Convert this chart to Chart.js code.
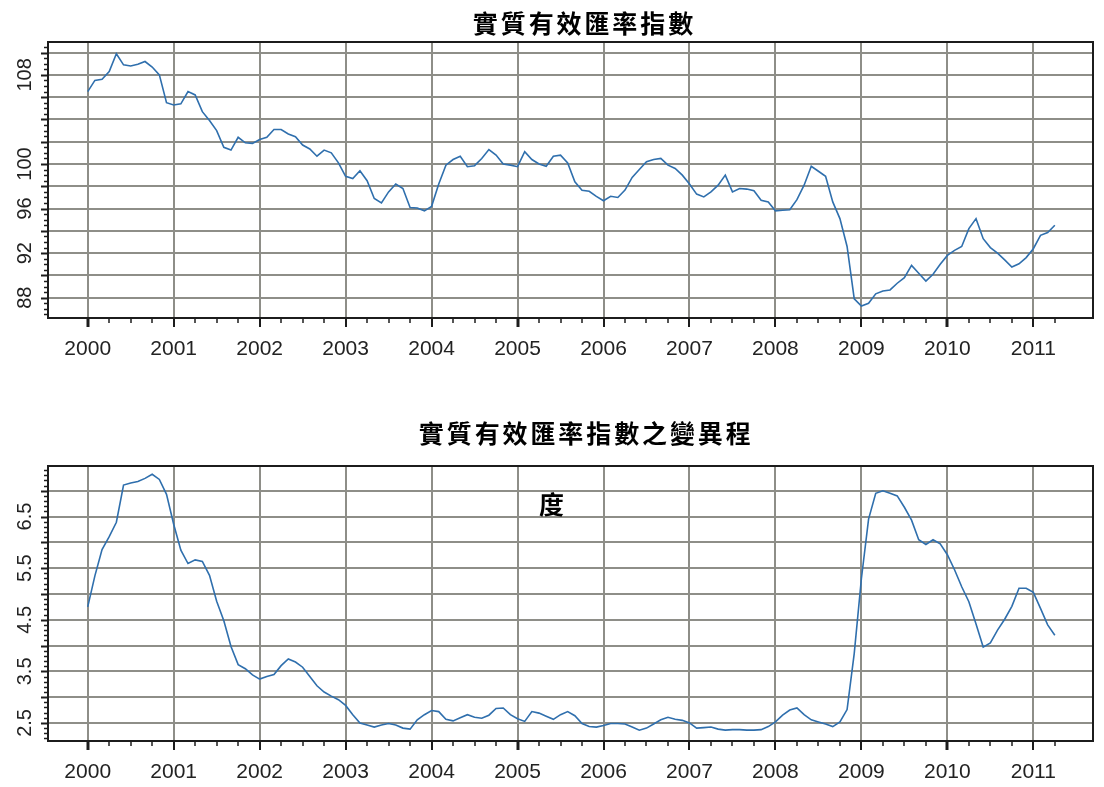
<!DOCTYPE html>
<html>
<head>
<meta charset="utf-8">
<script src="https://cdn.jsdelivr.net/npm/chart.js@4.4.0/dist/chart.umd.min.js"></script>
<style>
  html, body { margin: 0; padding: 0; background: #fff; }
  #wrap { position: relative; width: 1104px; height: 787px; overflow: hidden; background: #fff; }
  canvas { position: absolute; left: 0; }
  #indexChart { top: 0; }
  #volChart { top: 393px; }
</style>
</head>
<body>
<div id="wrap">
  <canvas id="indexChart" width="1104" height="393"></canvas>
  <canvas id="volChart" width="1104" height="394"></canvas>
</div>
<script>
// Year tick labels along both time axes
const years = [2000, 2001, 2002, 2003, 2004, 2005, 2006, 2007, 2008, 2009, 2010, 2011];

// Monthly real effective exchange rate index, Jan 2000 - Apr 2011
const reerIndex = [
  106.5, 107.5, 107.6, 108.3, 109.9, 108.9, 108.8, 108.95, 109.2, 108.7, 108.0, 105.5,
  105.3, 105.4, 106.5, 106.2, 104.7, 103.9, 103.0, 101.5, 101.25, 102.4, 101.9, 101.85,
  102.2, 102.4, 103.1, 103.1, 102.7, 102.45, 101.7, 101.35, 100.7, 101.25, 101.0, 100.1,
  98.9, 98.7, 99.4, 98.5, 96.9, 96.5, 97.5, 98.2, 97.8, 96.1, 96.05, 95.8,
  96.2, 98.2, 99.9, 100.4, 100.7, 99.76, 99.85, 100.5, 101.3, 100.8, 100.0, 99.9,
  99.76, 101.1, 100.4, 100.0, 99.8, 100.7, 100.8, 100.1, 98.4, 97.65, 97.55, 97.1,
  96.7, 97.1, 97.0, 97.66, 98.8, 99.5, 100.2, 100.4, 100.5, 99.9, 99.6, 99.0,
  98.2, 97.3, 97.05, 97.5, 98.1, 99.0, 97.5, 97.8, 97.75, 97.6, 96.75, 96.6,
  95.8, 95.85, 95.9, 96.8, 98.1, 99.8, 99.35, 98.9, 96.6, 95.1, 92.6, 87.9,
  87.25, 87.5, 88.35, 88.6, 88.7, 89.3, 89.8, 90.9, 90.2, 89.5, 90.1, 91.0,
  91.8, 92.25, 92.6, 94.2, 95.1, 93.3, 92.5, 92.0, 91.4, 90.75, 91.05, 91.6,
  92.4, 93.6, 93.85, 94.5
];

// Monthly variability of the index over the same months
const reerVolatility = [
  4.75, 5.35, 5.86, 6.11, 6.39, 7.11, 7.15, 7.18, 7.24, 7.32, 7.22, 6.93,
  6.35, 5.85, 5.59, 5.66, 5.63, 5.36, 4.86, 4.48, 3.98, 3.63, 3.55, 3.43,
  3.35, 3.40, 3.44, 3.61, 3.74, 3.68, 3.58, 3.40, 3.22, 3.10, 3.02, 2.95,
  2.84, 2.66, 2.50, 2.46, 2.42, 2.46, 2.49, 2.46, 2.40, 2.38, 2.56, 2.66,
  2.74, 2.72, 2.57, 2.54, 2.60, 2.66, 2.61, 2.59, 2.65, 2.78, 2.79, 2.66,
  2.58, 2.53, 2.72, 2.69, 2.63, 2.57, 2.66, 2.72, 2.64, 2.49, 2.43, 2.42,
  2.45, 2.49, 2.49, 2.48, 2.42, 2.36, 2.40, 2.48, 2.56, 2.61, 2.57, 2.55,
  2.50, 2.40, 2.41, 2.42, 2.38, 2.36, 2.37, 2.37, 2.36, 2.36, 2.37, 2.43,
  2.52, 2.65, 2.75, 2.79, 2.66, 2.56, 2.52, 2.48, 2.43, 2.52, 2.76, 3.85,
  5.30, 6.45, 6.95, 7.00, 6.95, 6.90, 6.68, 6.43, 6.05, 5.96, 6.05, 5.97,
  5.76, 5.47, 5.14, 4.85, 4.42, 3.97, 4.05, 4.30, 4.51, 4.76, 5.11, 5.11,
  5.03, 4.72, 4.40, 4.20
];

// Value-axis labels and grid lines
const indexTickLabels = [108, 100, 96, 92, 88];
const indexGridLines = [88, 90, 92, 94, 96, 98, 100, 102, 104, 106, 108, 110];
const volTickLabels = [6.5, 5.5, 4.5, 3.5, 2.5];
const volGridLines = [2.5, 3.0, 3.5, 4.0, 4.5, 5.0, 5.5, 6.0, 6.5, 7.0];

// Titles
const indexTitle = '實質有效匯率指數';
const volTitle = '實質有效匯率指數之變異程';
const volTitleTail = '度';

// Decimal-year position of each monthly observation
const monthPos = reerIndex.map((_, i) => years[0] + i / 12);

const GRID_COLOR = '#8e8e88';
const LINE_COLOR = '#2f6fad';
const LABEL_FONT = '"Liberation Sans", Arial, sans-serif';
const TITLE_FONT = 'bold 25px "Noto Sans CJK TC", "Noto Sans CJK SC", sans-serif';

// Frame, minor ticks, rotated value labels and spaced-out titles
const decorPlugin = {
  id: 'decor',
  afterDraw(chart, args, o) {
    const ctx = chart.ctx;
    const a = chart.chartArea;
    const xs = chart.scales.x;
    const ys = chart.scales.y;
    ctx.save();

    // plot frame
    ctx.strokeStyle = '#1c1c1c';
    ctx.lineWidth = 2;
    ctx.strokeRect(a.left, a.top, a.right - a.left, a.bottom - a.top);

    // value-axis ticks
    const kMin = Math.ceil(ys.min / o.yStep - 1e-9);
    const kMax = Math.floor(ys.max / o.yStep + 1e-9);
    for (let k = kMin; k <= kMax; k++) {
      const v = k * o.yStep;
      const major = o.yGrid.some(g => Math.abs(g - v) < 1e-6);
      const y = Math.round(ys.getPixelForValue(v)) + 0.5;
      ctx.lineWidth = major ? 2 : 1.5;
      ctx.beginPath();
      ctx.moveTo(a.left, y);
      ctx.lineTo(a.left - (major ? 7 : 4), y);
      ctx.stroke();
    }

    // quarterly time ticks, longer at each year, heavier every five years
    for (let q = 0; q <= o.quarters; q++) {
      const x = Math.round(xs.getPixelForValue(years[0] + q / 4));
      const isYear = q % 4 === 0;
      ctx.lineWidth = (q % 20 === 0) ? 3 : (isYear ? 2 : 1.5);
      ctx.beginPath();
      ctx.moveTo(x, a.bottom);
      ctx.lineTo(x, a.bottom + (isYear ? 9 : 5));
      ctx.stroke();
    }

    // rotated value labels
    ctx.fillStyle = '#222';
    ctx.font = '20px ' + LABEL_FONT;
    ctx.textAlign = 'center';
    ctx.textBaseline = 'alphabetic';
    o.yLabels.forEach(v => {
      const y = ys.getPixelForValue(v);
      ctx.save();
      ctx.translate(31, y);
      ctx.rotate(-Math.PI / 2);
      ctx.fillText(String(v), 0, 0);
      ctx.restore();
    });

    // titles drawn character by character with even spacing
    ctx.fillStyle = '#000';
    ctx.font = TITLE_FONT;
    ctx.textBaseline = 'middle';
    o.titles.forEach(t => {
      const chars = Array.from(t.text);
      const x0 = t.cx - (chars.length - 1) * o.pitch / 2;
      chars.forEach((c, i) => ctx.fillText(c, x0 + i * o.pitch, t.cy));
    });

    ctx.restore();
  }
};

function makeChart(canvasId, values, cfg) {
  const H = document.getElementById(canvasId).height;
  return new Chart(document.getElementById(canvasId), {
    type: 'line',
    data: {
      datasets: [{
        data: values.map((v, i) => ({ x: monthPos[i], y: v })),
        borderColor: LINE_COLOR,
        borderWidth: 1.6,
        pointRadius: 0,
        tension: 0,
        fill: false
      }]
    },
    options: {
      responsive: false,
      animation: false,
      devicePixelRatio: 1,
      layout: { padding: { top: cfg.plotTop, right: 11, left: 0, bottom: 0 } },
      plugins: {
        legend: { display: false },
        tooltip: { enabled: false },
        title: { display: false },
        decor: {
          yStep: cfg.yStep,
          yGrid: cfg.yGrid,
          yLabels: cfg.yLabels,
          quarters: 45,
          pitch: 27.9,
          titles: cfg.titles
        }
      },
      scales: {
        x: {
          type: 'linear',
          min: 1999.538,
          max: 2011.694,
          afterBuildTicks: s => { s.ticks = years.map(v => ({ value: v })); },
          afterFit: s => { s.height = H - cfg.plotBottom; },
          grid: { color: GRID_COLOR, lineWidth: 2, drawTicks: false },
          border: { display: false },
          ticks: {
            autoSkip: false,
            maxRotation: 0,
            minRotation: 0,
            padding: 19,
            color: '#222',
            font: { family: LABEL_FONT, size: 21 },
            callback: v => String(v)
          }
        },
        y: {
          type: 'linear',
          min: cfg.yMin,
          max: cfg.yMax,
          afterBuildTicks: s => { s.ticks = cfg.yGrid.map(v => ({ value: v })); },
          afterFit: s => { s.width = 48; },
          grid: { color: GRID_COLOR, lineWidth: 2, drawTicks: false },
          border: { display: false },
          ticks: { display: false }
        }
      }
    },
    plugins: [decorPlugin]
  });
}

makeChart('indexChart', reerIndex, {
  plotTop: 42, plotBottom: 318,
  yMin: 86.18, yMax: 110.95, yStep: 0.5,
  yGrid: indexGridLines, yLabels: indexTickLabels,
  titles: [{ text: indexTitle, cx: 583, cy: 23.5 }]
});

makeChart('volChart', reerVolatility, {
  plotTop: 73, plotBottom: 348,
  yMin: 2.15, yMax: 7.48, yStep: 0.1,
  yGrid: volGridLines, yLabels: volTickLabels,
  titles: [
    { text: volTitle, cx: 584.8, cy: 40 },
    { text: volTitleTail, cx: 551.5, cy: 111 }
  ]
});
</script>
</body>
</html>
